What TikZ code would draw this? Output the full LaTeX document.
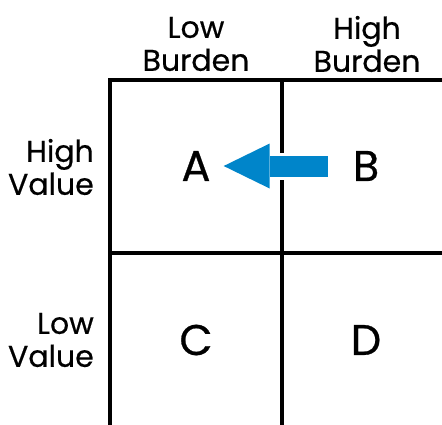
\documentclass[tikz,border=0pt]{standalone}
\usepackage{fontspec}
\setmainfont{Poppins}[FakeBold=0.6]
\usepackage{xcolor}
\definecolor{FlowBlue}{RGB}{0,133,202}
\usetikzlibrary{arrows.meta,positioning}

\begin{document}
\begin{tikzpicture}[
  x=1pt, y=-1pt,
  grid/.style={
    line width=3.5pt, line cap=rect},
  head/.style={
    align=center, inner sep=0pt,
    font=\fontsize{30}{33}\selectfont},
  side/.style={head,
    align=right, anchor=east},
  cell/.style={
    inner sep=0pt,
    font=\fontsize{43}{46}\selectfont},
  flow/.style={
    line width=21pt, FlowBlue,
    -{Triangle[length=46pt, width=45pt, line width=0pt]},
    preaction={draw=white, line width=27pt, -}}
]
\useasboundingbox (0,0) rectangle (442,424);

% matrix lines
\draw[grid] (110,424) -- (110,80) -- (442,80);
\draw[grid] (282,80) -- (282,424);
\draw[grid] (110,253) -- (442,253);

% axis labels
\node[head] (lowb) at (196,44) {Low\\Burden};
\node[head] (highb) at (367,44) {High\\Burden};
\node[side] (highv) at (94,167) {High\\Value};
\node[side] (lowv) at (94,340) {Low\\Value};

% quadrants
\node[cell] (A) at (196,166) {A};
\node[cell] (B) at (366,166) {B};
\node[cell] (C) at (196,340) {C};
\node[cell] (D) at (366,340) {D};

\draw[flow] ([xshift=-25pt]B.west) -- ([xshift=13pt]A.east);

\end{tikzpicture}
\end{document}
